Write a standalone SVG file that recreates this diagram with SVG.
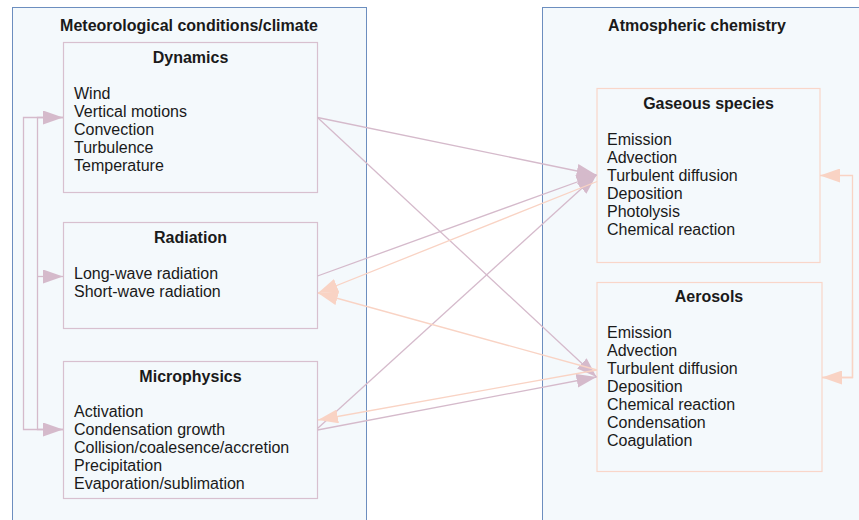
<svg xmlns="http://www.w3.org/2000/svg" width="859" height="520" viewBox="0 0 859 520">
<style>
.outer{fill:#f4f9fc;stroke:#6c8ebf;stroke-width:1}
.mbox{fill:none;stroke:#d8c0cf;stroke-width:1.2}
.pbox{fill:none;stroke:#f9d6c9;stroke-width:1.2}
text{font-family:"Liberation Sans",Arial,sans-serif;font-size:16px;fill:#1a1a1a}
.t{font-weight:bold;text-anchor:middle}
.mc{fill:none;stroke:#d5bacb;stroke-width:1.3}
.pc{fill:none;stroke:#f9d3c4;stroke-width:1.3}
</style>
<defs>
<marker id="am" markerUnits="userSpaceOnUse" markerWidth="20" markerHeight="14" refX="20" refY="7" orient="auto"><path d="M0,0 L20,7 L0,14 Z" fill="#d5bacb"/></marker>
<marker id="ap" markerUnits="userSpaceOnUse" markerWidth="20" markerHeight="14" refX="20" refY="7" orient="auto"><path d="M0,0 L20,7 L0,14 Z" fill="#f9d3c4"/></marker>
</defs>
<rect width="859" height="520" fill="#ffffff"/>
<g id="meteo">
<rect class="outer" x="12.5" y="7.5" width="354" height="530"/>
<text class="t" x="189" y="31">Meteorological conditions/climate</text>
</g>
<g id="chem">
<rect class="outer" x="542.5" y="7.5" width="340" height="530"/>
<text class="t" x="697" y="31">Atmospheric chemistry</text>
</g>
<g id="dynamics">
<rect class="mbox" x="63.5" y="42.5" width="254" height="150"/>
<text class="t" x="190.5" y="63">Dynamics</text>
<text x="74" y="99">Wind</text>
<text x="74" y="117">Vertical motions</text>
<text x="74" y="135">Convection</text>
<text x="74" y="153">Turbulence</text>
<text x="74" y="171">Temperature</text>
</g>
<g id="radiation">
<rect class="mbox" x="63.5" y="222.5" width="254" height="106"/>
<text class="t" x="190.5" y="243">Radiation</text>
<text x="74" y="279">Long-wave radiation</text>
<text x="74" y="297">Short-wave radiation</text>
</g>
<g id="microphysics">
<rect class="mbox" x="63.5" y="361.5" width="254" height="137"/>
<text class="t" x="190.5" y="382">Microphysics</text>
<text x="74" y="417">Activation</text>
<text x="74" y="435">Condensation growth</text>
<text x="74" y="453">Collision/coalesence/accretion</text>
<text x="74" y="471">Precipitation</text>
<text x="74" y="489">Evaporation/sublimation</text>
</g>
<g id="gaseous">
<rect class="pbox" x="597" y="88.5" width="223" height="174"/>
<text class="t" x="708.5" y="109">Gaseous species</text>
<text x="607" y="145">Emission</text>
<text x="607" y="163">Advection</text>
<text x="607" y="181">Turbulent diffusion</text>
<text x="607" y="199">Deposition</text>
<text x="607" y="217">Photolysis</text>
<text x="607" y="235">Chemical reaction</text>
</g>
<g id="aerosols">
<rect class="pbox" x="597" y="282.5" width="225" height="189"/>
<text class="t" x="709" y="302">Aerosols</text>
<text x="607" y="338">Emission</text>
<text x="607" y="356">Advection</text>
<text x="607" y="374">Turbulent diffusion</text>
<text x="607" y="392">Deposition</text>
<text x="607" y="410">Chemical reaction</text>
<text x="607" y="428">Condensation</text>
<text x="607" y="446">Coagulation</text>
</g>
<g id="connectors">
<path class="mc" d="M63,429.5 H23.5 V117.5 H63" marker-end="url(#am)"/>
<path class="mc" d="M63,117.5 H37.5 V429.5 H63" marker-end="url(#am)"/>
<path class="mc" d="M37.5,276.5 H63" marker-end="url(#am)"/>
<path class="pc" d="M822,377.5 H852.5 V175.5 H820" marker-end="url(#ap)"/>
<path class="pc" d="M852.5,300 V377.5 H822" marker-end="url(#ap)"/>
<path class="mc" d="M317.5,117.5 L596.5,175" marker-end="url(#am)"/>
<path class="mc" d="M317.5,117.5 L596.5,377" marker-end="url(#am)"/>
<path class="mc" d="M317.5,276 L596.5,175" marker-end="url(#am)"/>
<path class="mc" d="M317.5,428.5 L596.5,175" marker-end="url(#am)"/>
<path class="mc" d="M317.5,430 L596.5,377" marker-end="url(#am)"/>
<path class="pc" d="M597,181.5 L318,293" marker-end="url(#ap)"/>
<path class="pc" d="M597,370 L318,293" marker-end="url(#ap)"/>
<path class="pc" d="M597,370 L318,420" marker-end="url(#ap)"/>
</g>
</svg>
